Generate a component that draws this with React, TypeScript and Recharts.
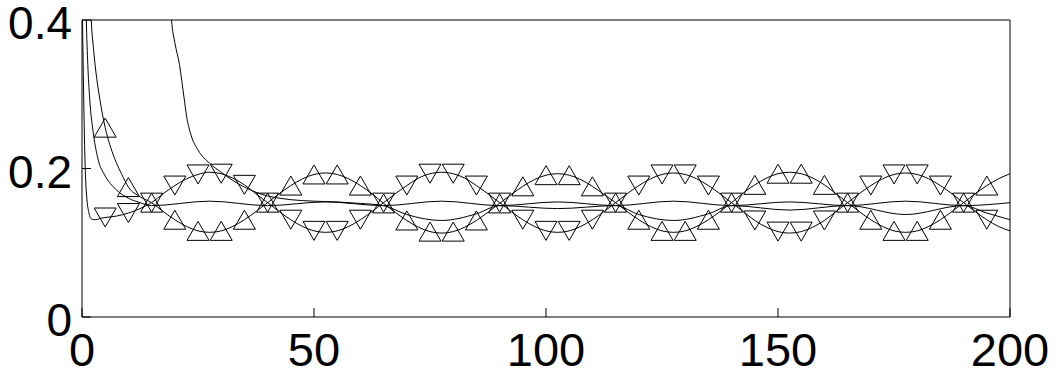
import React from "react";
import { ComposedChart, Line, XAxis, YAxis } from "recharts";

// sample positions of the periodic part (x = 15 … 200)
const tailX = [15,17.5,20,22.5,25,27.5,30,32.5,35,37.5,40,42.5,45,47.5,50,52.5,55,57.5,60,62.5,65,67.5,70,72.5,75,77.5,80,82.5,85,87.5,90,92.5,95,97.5,100,102.5,105,107.5,110,112.5,115,117.5,120,122.5,125,127.5,130,132.5,135,137.5,140,142.5,145,147.5,150,152.5,155,157.5,160,162.5,165,167.5,170,172.5,175,177.5,180,182.5,185,187.5,190,192.5,195,197.5,200];

// series with downward triangles
const downHeadX = [0,0.25,0.5,0.75,1,1.5,2,3,4,5,7.5,10,12.5];
const downHeadY = [0.45,0.34,0.25,0.19,0.163,0.14,0.132,0.131,0.133,0.134,0.136,0.14,0.146];
const downTailY = [
  0.154,0.166,0.177,0.186,0.192,0.195,0.193,0.187,0.178,0.166,0.154,0.142,0.131,0.122,0.116,0.114,0.116,0.122,0.131,0.142,
  0.154,0.166,0.177,0.187,0.193,0.195,0.193,0.187,0.177,0.166,0.154,0.142,0.131,0.122,0.116,0.114,0.116,0.122,0.131,0.142,
  0.154,0.166,0.177,0.186,0.192,0.194,0.192,0.186,0.177,0.166,0.154,0.142,0.130,0.121,0.115,0.113,0.115,0.121,0.130,0.142,
  0.154,0.166,0.177,0.186,0.192,0.194,0.192,0.186,0.177,0.166,0.154,0.142,0.131,0.122,0.116
];

// series with upward triangles
const upHeadX = [1.5,2,2.5,3,3.8,5,6,7,8.5,10,12.5];
const upHeadY = [0.5,0.4,0.36,0.33,0.295,0.255,0.232,0.214,0.193,0.175,0.162];
const upTailY = [
  0.154,0.142,0.131,0.122,0.116,0.114,0.116,0.122,0.131,0.142,0.154,0.166,0.177,0.186,0.192,0.194,0.192,0.186,0.177,0.166,
  0.153,0.141,0.130,0.121,0.115,0.113,0.115,0.121,0.130,0.141,0.153,0.165,0.176,0.185,0.191,0.193,0.191,0.185,0.176,0.165,
  0.154,0.142,0.131,0.122,0.116,0.114,0.116,0.122,0.131,0.142,0.154,0.167,0.178,0.187,0.193,0.195,0.193,0.187,0.178,0.166,
  0.154,0.142,0.131,0.122,0.116,0.114,0.116,0.122,0.131,0.142,0.154,0.166,0.177,0.186,0.193
];

// nearly flat line
const flatX = [0.6,0.93,1.25,1.65,2.5,3.4,5,6.5,8,10,12.5,15,27.5,40,52.5,65,77.5,90,102.5,115,127.5,140,152.5,165,177.5,190,200];
const flatY = [0.5,0.4,0.34,0.295,0.245,0.214,0.19,0.177,0.168,0.16,0.154,0.15,0.156,0.15,0.155,0.15,0.156,0.15,0.155,0.15,0.156,0.15,0.155,0.15,0.156,0.15,0.154];

// late decaying line
const lateX = [18.5,19.3,20,21,22,22.5,23.5,25,27.5,30,32.5,35,37.5,40,42.5,45,50,55,60,65,70,77.5,85,90,102.5,115,120,127.5,135,140,152.5,165,177.5,190,195,200];
const lateY = [0.5,0.4,0.37,0.34,0.295,0.272,0.245,0.225,0.207,0.195,0.184,0.175,0.168,0.163,0.16,0.158,0.156,0.155,0.153,0.15,0.138,0.13,0.139,0.15,0.146,0.15,0.138,0.13,0.139,0.15,0.144,0.15,0.138,0.15,0.14,0.131];

const xTicks = [0, 50, 100, 150, 200];
const yTicks = [0, 0.2, 0.4];

const zip = (xs: number[], ys: number[]) => xs.map((x, i) => ({ x, y: ys[i] }));
const downData = zip([...downHeadX, ...tailX], [...downHeadY, ...downTailY]);
const upData = zip([...upHeadX, ...tailX], [...upHeadY, ...upTailY]);
const flatData = zip(flatX, flatY);
const lateData = zip(lateX, lateY);

const FONT = "'Liberation Sans', Arial, Helvetica, sans-serif";
const tickStyle = { fontSize: 47, fill: "#000", fontFamily: FONT };

const YTick = (props: any) => {
  const { x, y, payload } = props;
  return (
    <text x={x} y={y + 3} dy="0.355em" textAnchor="end" fontSize={46} fill="#000" fontFamily={FONT}>
      {String(payload.value)}
    </text>
  );
};

const isMarker = (x: number) => x >= 5 && x <= 195 && Math.abs(x / 5 - Math.round(x / 5)) < 1e-9;

const makeDot = (dir: "up" | "down") => (props: any) => {
  const { cx, cy, payload, index } = props;
  if (!payload || !isMarker(payload.x) || cx == null || cy == null) {
    return <g key={`n-${dir}-${index}`} />;
  }
  const w = 11;
  const h = 9.5;
  const d =
    dir === "up"
      ? `M${cx},${cy - h} L${cx + w},${cy + h} L${cx - w},${cy + h} Z`
      : `M${cx},${cy + h} L${cx + w},${cy - h} L${cx - w},${cy - h} Z`;
  return <path key={`m-${dir}-${index}`} d={d} fill="none" stroke="#000" strokeWidth={1} />;
};

export default function App() {
  return (
    <div style={{ position: "absolute", left: 0, top: 0, width: 1056, height: 380, fontFamily: FONT }}>
      <ComposedChart width={1056} height={380} margin={{ top: 0, right: 0, bottom: 0, left: 0 }}>
        <XAxis
          dataKey="x"
          type="number"
          domain={[0, 200]}
          ticks={xTicks}
          interval={0}
          height={63}
          tickSize={-9}
          tickMargin={25}
          tick={tickStyle}
          axisLine={{ stroke: "#000" }}
          tickLine={{ stroke: "#000" }}
          allowDataOverflow
        />
        <XAxis
          xAxisId="top"
          orientation="top"
          dataKey="x"
          type="number"
          domain={[0, 200]}
          ticks={xTicks}
          interval={0}
          height={20}
          tickSize={-9}
          tickFormatter={() => ""}
          axisLine={{ stroke: "#000" }}
          tickLine={{ stroke: "#000" }}
        />
        <YAxis
          type="number"
          domain={[0, 0.4]}
          ticks={yTicks}
          interval={0}
          width={82}
          tickSize={-9}
          tickMargin={19}
          tick={YTick}
          axisLine={{ stroke: "#000" }}
          tickLine={{ stroke: "#000" }}
          allowDataOverflow
        />
        <YAxis
          yAxisId="right"
          orientation="right"
          type="number"
          domain={[0, 0.4]}
          ticks={yTicks}
          interval={0}
          width={46}
          tickSize={-9}
          tickFormatter={() => ""}
          axisLine={{ stroke: "#000" }}
          tickLine={{ stroke: "#000" }}
        />
        <Line data={lateData} dataKey="y" type="monotone" stroke="#000" strokeWidth={1} dot={false} isAnimationActive={false} />
        <Line data={flatData} dataKey="y" type="monotone" stroke="#000" strokeWidth={1} dot={false} isAnimationActive={false} />
        <Line data={downData} dataKey="y" type="monotone" stroke="#000" strokeWidth={1} dot={makeDot("down")} activeDot={false} isAnimationActive={false} />
        <Line data={upData} dataKey="y" type="monotone" stroke="#000" strokeWidth={1} dot={makeDot("up")} activeDot={false} isAnimationActive={false} />
      </ComposedChart>
    </div>
  );
}
